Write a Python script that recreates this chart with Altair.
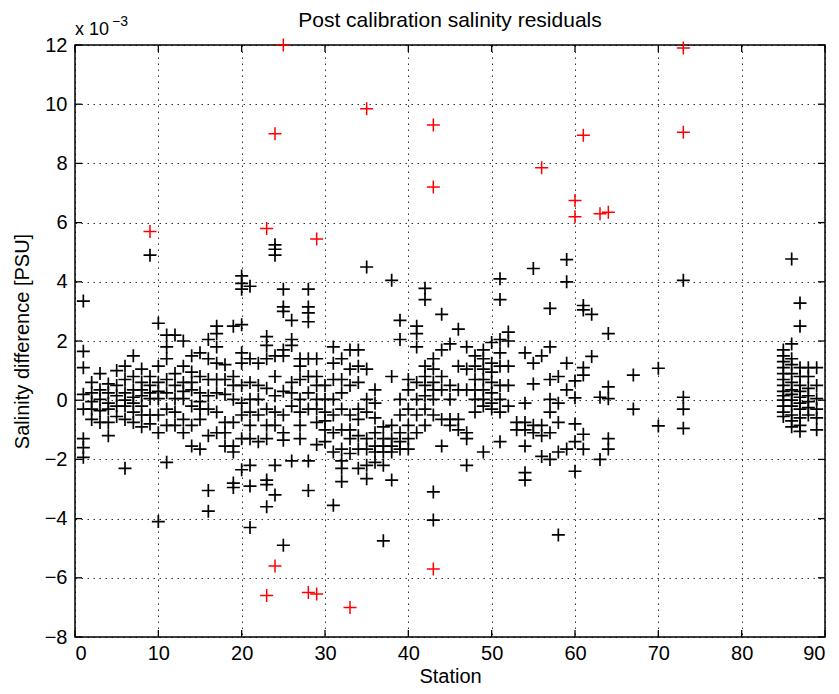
import altair as alt
import pandas as pd

# ---- axis ticks -------------------------------------------------------
x_ticks = [0, 10, 20, 30, 40, 50, 60, 70, 80, 90]
y_ticks = [-8, -6, -4, -2, 0, 2, 4, 6, 8, 10, 12]

# ---- flagged (red) residuals, units of 1e-3 PSU -----------------------
red_station = [9, 23, 24, 25, 29, 35, 43, 43, 56, 60, 60, 61, 63, 64, 73, 73,
               23, 24, 28, 29, 33, 43]
red_value = [5.7, 5.8, 9.0, 12.0, 5.45, 9.85, 9.3, 7.2, 7.85, 6.75, 6.2, 8.95,
             6.3, 6.35, 11.9, 9.05, -6.6, -5.6, -6.5, -6.55, -7.0, -5.7]

# ---- accepted (black) residuals, per station --------------------------
black_01_20 = [
    (1, [3.35, 1.65, 1.1, 0.2, -0.3, -1.3, -1.6, -1.93]),
    (2, [0.6, 0.25, -0.05, -0.3, -0.65]),
    (3, [0.9, 0.35, 0.03, -0.35, -0.75]),
    (4, [0.55, 0.25, -0.1, -0.3, -0.75, -1.2]),
    (5, [1.0, 0.5, 0.15, -0.2, -0.55]),
    (6, [1.15, 0.7, 0.25, 0.0, -0.2, -0.65, -2.3]),
    (7, [1.5, 0.8, 0.35, 0.1, -0.1, -0.4, -0.75]),
    (8, [1.05, 0.6, 0.35, 0.15, -0.2, -0.5, -0.9]),
    (9, [4.9, 0.8, 0.5, 0.25, 0.05, -0.5, -0.8]),
    (10, [2.6, 1.15, 0.6, 0.3, 0.05, -0.5, -1.1, -4.1]),
    (11, [2.2, 1.8, 1.4, 0.7, 0.25, -0.3, -0.85, -2.1]),
    (12, [2.2, 0.9, 0.5, 0.05, -0.4, -0.85]),
    (13, [2.0, 1.15, 0.6, 0.3, 0.05, -0.65, -1.1]),
    (14, [1.5, 0.95, 0.6, 0.35, -0.2, -0.85, -1.55]),
    (15, [1.6, 0.8, 0.25, -0.05, -0.3, -0.65, -1.65]),
    (16, [2.05, 1.4, 0.7, 0.15, -0.3, -1.2, -3.05, -3.75]),
    (17, [2.5, 2.25, 1.8, 1.25, 0.7, 0.25, -0.4, -1.1]),
    (18, [1.2, 0.7, 0.2, -0.75, -1.1, -1.55]),
    (19, [2.5, 0.8, 0.5, 0.03, -0.75, -1.55, -1.75, -2.8, -2.95]),
    (20, [4.2, 3.95, 3.75, 2.55, 1.6, 1.25, 0.5, -0.1, -0.5, -1.3, -2.35]),
]
black_21_40 = [
    (21, [3.85, 1.4, 0.6, 0.03, -0.4, -0.85, -1.3, -2.2, -2.9, -4.3]),
    (22, [1.25, 0.5, 0.03, -0.5, -1.4]),
    (23, [2.15, 1.85, 1.4, 0.4, -0.3, -0.85, -1.3, -2.7, -2.85, -3.6]),
    (24, [5.25, 5.1, 4.9, 1.5, 0.8, 0.15, -0.4, -0.85, -2.2, -3.2]),
    (25, [3.75, 3.15, 3.0, 1.7, 1.5, 0.3, -0.5, -1.1, -1.35, -4.9]),
    (26, [2.7, 2.05, 1.85, 0.6, 0.25, -0.2, -2.05]),
    (27, [1.4, 1.15, 0.7, 0.03, -0.4, -0.85, -1.3]),
    (28, [3.75, 3.15, 2.95, 2.65, 1.4, 0.8, 0.25, -0.3, -2.05, -3.05]),
    (29, [1.4, 0.8, 0.5, 0.03, -0.3, -0.75, -1.5]),
    (30, [0.5, 0.03, -0.4, -0.7, -1.0, -1.4]),
    (31, [1.8, 1.25, 0.7, 0.03, -0.5, -1.1, -1.75, -3.55]),
    (32, [1.4, 0.7, 0.25, -0.3, -1.0, -1.65, -2.05, -2.3, -2.75]),
    (33, [1.7, 1.05, 0.5, -0.5, -1.0, -1.3, -1.8]),
    (34, [1.7, 1.15, 0.6, -0.3, -0.65, -1.2, -1.65, -2.3]),
    (35, [4.5, 1.05, 0.03, -0.4, -1.3, -1.65, -2.2, -2.65]),
    (36, [0.35, -0.1, -0.6, -1.1, -1.55, -1.75, -2.1]),
    (37, [-0.9, -1.3, -1.55, -1.75, -2.2, -4.75]),
    (38, [4.05, 0.8, -0.85, -1.3, -1.55, -1.75, -2.7]),
    (39, [2.7, 2.05, 0.03, -0.5, -1.1, -1.4, -1.65]),
    (40, [0.7, 0.35, -0.3, -0.85, -1.3, -1.65]),
]
black_41_60 = [
    (41, [2.5, 2.25, 1.8, 0.6, 0.03, -0.5, -1.1]),
    (42, [3.78, 3.4, 1.15, 0.8, 0.5, 0.15, -0.3, -0.85]),
    (43, [1.4, 1.05, 0.6, 0.35, 0.03, -0.5, -3.1, -4.05]),
    (44, [2.9, 1.7, 0.8, 0.35, -0.65, -1.55]),
    (45, [1.9, 0.5, 0.03, -0.65, -0.85]),
    (46, [2.4, 1.15, 0.35, -0.65, -1.0]),
    (47, [1.8, 1.05, 0.35, -1.1, -1.3, -2.2]),
    (48, [1.5, 1.15, 0.7, 0.35, 0.03, -0.4]),
    (49, [1.7, 1.4, 1.05, 0.7, 0.35, 0.03, -0.2, -1.75]),
    (50, [1.95, 1.25, 0.95, 0.6, 0.25, -0.1, -0.3]),
    (51, [4.1, 3.4, 2.05, 1.6, 1.15, 0.5, 0.03, -0.4, -1.4]),
    (52, [2.3, 2.0, 1.15, 0.5, -0.2]),
    (53, [-0.75, -1.0]),
    (54, [1.6, -0.1, -0.75, -1.0, -1.55, -2.45, -2.7]),
    (55, [4.45, 1.25, 0.55, -0.85, -1.1]),
    (56, [1.5, -0.85, -1.2, -1.9]),
    (57, [3.1, 1.8, 0.7, 0.03, -0.4, -1.1, -2.0]),
    (58, [0.8, -0.1, -0.75, -1.75, -4.55]),
    (59, [4.75, 4.0, 1.25, 0.35, -1.65]),
    (60, [0.65, 0.08, -0.8, -1.4, -2.4]),
]
black_61_89 = [
    (61, [3.2, 3.05, 1.1, 0.85, -1.15, -1.65]),
    (62, [2.9, 1.48]),
    (63, [0.1, -2.0]),
    (64, [2.25, 0.45, 0.05, -1.3, -1.65]),
    (67, [0.85, -0.3]),
    (70, [1.08, -0.87]),
    (73, [4.05, 0.1, -0.3, -0.95]),
    (85, [1.7, 1.5, 1.3, 1.1, 0.9, 0.7, 0.5, 0.3, 0.15, 0.0, -0.2, -0.4, -0.55]),
    (86, [4.77, 1.9, 1.4, 1.2, 0.9, 0.6, 0.35, 0.2, 0.0, -0.2, -0.5, -0.7, -0.9]),
    (87, [3.28, 2.5, 1.1, 0.8, 0.5, 0.3, 0.1, -0.1, -0.3, -0.6, -0.85, -1.05]),
    (88, [1.1, 0.8, 0.4, 0.15, -0.05, -0.25, -0.5]),
    (89, [1.1, 0.5, 0.05, -0.3, -0.6, -1.0]),
]

rows = []
for group in (black_01_20, black_21_40, black_41_60, black_61_89):
    for st, vals in group:
        for v in vals:
            rows.append({"station": st, "resid": v})
black_df = pd.DataFrame(rows)
red_df = pd.DataFrame({"station": red_station, "resid": red_value})
xt_df = pd.DataFrame({"station": x_ticks})
yt_df = pd.DataFrame({"resid": y_ticks})

W, H = 750, 592
FONT = "Liberation Sans"
PLUS = "M-1,0L1,0M0,-1L0,1"
TL = 7

xscale = alt.Scale(domain=[0, 90], nice=False, zero=False)
yscale = alt.Scale(domain=[-8, 12], nice=False, zero=False)

x_axis = alt.Axis(values=x_ticks, title="Station", labelPadding=6,
                  titlePadding=3, format="d")
y_axis = alt.Axis(values=y_ticks, title="Salinity difference [PSU]",
                  labelPadding=8, titlePadding=12, format="d")

X = alt.X("station:Q", scale=xscale, axis=x_axis)
Y = alt.Y("resid:Q", scale=yscale, axis=y_axis)

black_pts = alt.Chart(black_df).mark_point(
    shape=PLUS, filled=False, size=169, strokeWidth=1.7, color="black", opacity=1
).encode(x=X, y=Y)

red_pts = alt.Chart(red_df).mark_point(
    shape=PLUS, filled=False, size=169, strokeWidth=1.5, color="#ff0000", opacity=1
).encode(x=X, y=Y)

tick_style = dict(color="black", strokeWidth=1.3)
xt_bottom = alt.Chart(xt_df).mark_rule(**tick_style).encode(
    x=X, y=alt.value(H), y2=alt.value(H - TL))
xt_top = alt.Chart(xt_df).mark_rule(**tick_style).encode(
    x=X, y=alt.value(0), y2=alt.value(TL))
yt_left = alt.Chart(yt_df).mark_rule(**tick_style).encode(
    y=Y, x=alt.value(0), x2=alt.value(TL))
yt_right = alt.Chart(yt_df).mark_rule(**tick_style).encode(
    y=Y, x=alt.value(W - TL), x2=alt.value(W))

title_txt = alt.Chart(pd.DataFrame({"s": ["Post calibration salinity residuals"]})).mark_text(
    align="center", baseline="alphabetic", font=FONT, fontSize=21, color="black"
).encode(text="s:N", x=alt.value(W / 2), y=alt.value(-18))
exp_main = alt.Chart(pd.DataFrame({"s": ["x 10"]})).mark_text(
    align="left", baseline="alphabetic", font=FONT, fontSize=18, color="black"
).encode(text="s:N", x=alt.value(0), y=alt.value(-10))
exp_sup = alt.Chart(pd.DataFrame({"s": ["\u22123"]})).mark_text(
    align="left", baseline="alphabetic", font=FONT, fontSize=14, color="black"
).encode(text="s:N", x=alt.value(37), y=alt.value(-19))

chart = alt.layer(
    black_pts, red_pts, xt_bottom, xt_top, yt_left, yt_right,
    title_txt, exp_main, exp_sup
).properties(
    width=W, height=H,
    padding={"left": 75, "top": 45, "right": 14, "bottom": 57},
    autosize=alt.AutoSizeParams(type="none"),
).configure_view(
    stroke="black", strokeWidth=1.5
).configure_axis(
    labelFont=FONT, labelFontSize=20, labelColor="black",
    titleFont=FONT, titleFontSize=20, titleFontWeight="normal", titleColor="black",
    tickSize=0, domain=False, grid=True, gridColor="black",
    gridDash=[1.5, 4.5], gridOpacity=0.8, gridWidth=1,
)

chart.save("out.html", embed_options={"renderer": "svg", "actions": False})
